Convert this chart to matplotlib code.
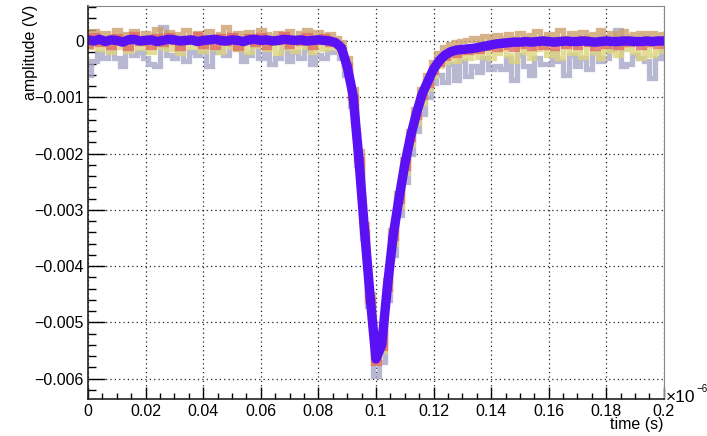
import numpy as np
import matplotlib
matplotlib.use("Agg")
import matplotlib.pyplot as plt
from matplotlib.ticker import MultipleLocator, FuncFormatter

plt.rcParams['font.family'] = ['Liberation Sans', 'DejaVu Sans']

# time samples in units of 1e-6 s
time_us = np.linspace(0, 0.2, 101)

# amplitudes in mV
trace_gray = [
    -0.6, -0.35, -0.2, -0.3, -0.15, -0.3, -0.45, -0.1, -0.25, -0.2,
    -0.3, -0.4, -0.45, 0.25, -0.25, -0.3, -0.05, -0.35, -0.2, -0.25,
    -0.1, -0.45, -0.2, -0.15, -0.25, 0.1, -0.15, -0.35, -0.25, -0.05,
    -0.3, -0.2, -0.4, -0.3, -0.1, -0.35, -0.2, -0.3, -0.15, -0.4,
    -0.25, -0.3, -0.2, -0.2, -0.3, -0.6, -1.15, -2.2, -3.5, -4.7,
    -5.95, -5.7, -4.6, -3.8, -3.1, -2.5, -2.0, -1.6, -1.3, -1.0,
    -0.75, -0.6, -0.72, -0.4, -0.7, -0.35, -0.62, -0.45, -0.55, -0.3,
    -0.5, -0.45, -0.5, -0.3, -0.7, -0.25, -0.45, -0.6, -0.3, -0.4,
    -0.4, -0.2, -0.35, -0.6, -0.25, -0.45, -0.3, -0.5, -0.2, -0.35,
    -0.3, -0.15, 0.2, -0.45, -0.4, -0.25, -0.3, -0.35, -0.65, -0.3,
    -0.2]
trace_yellow = [
    -0.1, 0.05, -0.15, -0.05, -0.2, 0.0, -0.1, -0.18, 0.05, -0.12,
    -0.05, -0.2, 0.0, -0.1, -0.15, -0.05, -0.22, 0.02, -0.1, -0.08,
    -0.18, -0.02, -0.12, -0.2, 0.05, -0.1, -0.15, -0.05, -0.2, -0.08,
    0.0, -0.15, -0.1, -0.22, -0.05, -0.12, -0.18, 0.02, -0.1, -0.2,
    -0.08, -0.15, -0.1, -0.12, -0.2, -0.5, -1.05, -2.15, -3.4, -4.6,
    -5.7, -5.5, -4.45, -3.6, -2.95, -2.35, -1.85, -1.45, -1.1, -0.85,
    -0.62, -0.45, -0.38, -0.3, -0.35, -0.25, -0.3, -0.2, -0.28, -0.15,
    -0.3, -0.22, -0.12, -0.25, -0.35, -0.1, -0.2, -0.3, -0.15, -0.05,
    -0.25, -0.18, -0.3, -0.1, -0.22, -0.15, -0.28, -0.05, -0.2, -0.3,
    -0.12, -0.18, -0.25, 0.05, -0.15, -0.2, -0.3, -0.1, -0.25, -0.18,
    -0.08]
trace_brown = [
    0.1, 0.18, 0.05, 0.15, 0.08, 0.2, 0.02, 0.12, 0.18, 0.06,
    0.14, 0.1, 0.22, 0.04, 0.16, 0.08, 0.12, 0.2, 0.05, 0.15,
    0.1, 0.18, 0.06, 0.12, 0.25, 0.08, 0.14, 0.1, 0.16, 0.05,
    0.2, 0.12, 0.08, 0.15, 0.1, 0.18, 0.06, 0.14, 0.2, 0.1,
    0.16, 0.08, 0.12, 0.05, -0.02, -0.3, -0.85, -1.95, -3.25, -4.5,
    -5.6, -5.35, -4.25, -3.35, -2.7, -2.1, -1.6, -1.2, -0.85, -0.6,
    -0.38, -0.22, -0.1, -0.05, -0.02, 0.0, 0.02, 0.05, 0.0, 0.08,
    0.04, 0.1, 0.06, 0.12, 0.05, 0.15, 0.08, 0.1, 0.18, 0.06,
    0.12, 0.1, 0.2, 0.05, 0.14, 0.08, 0.16, 0.1, 0.12, 0.2,
    0.06, 0.14, 0.1, 0.18, 0.08, 0.12, 0.15, 0.05, 0.14, 0.1,
    0.12]
trace_red = [
    -0.08, 0.1, -0.05, 0.06, -0.1, 0.08, 0.0, -0.12, 0.12, -0.04,
    0.05, -0.1, 0.08, -0.06, 0.1, -0.02, -0.12, 0.06, 0.0, 0.12,
    -0.08, 0.04, -0.1, 0.08, -0.04, 0.1, -0.12, 0.02, 0.08, -0.06,
    0.1, -0.1, 0.04, -0.02, 0.12, -0.08, 0.06, -0.04, 0.1, -0.1,
    0.02, 0.08, -0.05, -0.06, -0.15, -0.42, -1.0, -2.1, -3.4, -4.6,
    -5.72, -5.45, -4.4, -3.5, -2.85, -2.25, -1.75, -1.35, -1.0, -0.78,
    -0.55, -0.4, -0.3, -0.22, -0.25, -0.15, -0.2, -0.1, -0.18, -0.05,
    -0.12, -0.15, -0.02, -0.1, -0.14, 0.02, -0.08, -0.12, 0.0, -0.1,
    -0.05, -0.12, 0.04, -0.08, -0.02, -0.1, 0.05, -0.06, -0.12, 0.02,
    -0.08, -0.04, -0.1, 0.03, -0.06, -0.02, -0.1, 0.04, -0.05, -0.08,
    0.0]
trace_blue = [
    0.02, 0.00, 0.03, -0.01, 0.02, 0.01, -0.02, 0.02, 0.03, 0.00,
    0.01, 0.02, -0.01, 0.01, 0.03, 0.02, 0.00, 0.01, 0.02, -0.01,
    0.01, 0.02, 0.03, 0.01, 0.00, 0.02, 0.01, -0.01, 0.02, 0.03,
    0.01, 0.02, 0.00, 0.01, 0.03, 0.02, 0.01, 0.02, 0.00, 0.01,
    0.02, 0.01, 0.00, -0.03, -0.12, -0.45, -0.95, -2.05, -3.35, -4.55,
    -5.65, -5.4, -4.35, -3.45, -2.8, -2.2, -1.7, -1.3, -0.95, -0.72,
    -0.5, -0.35, -0.25, -0.19, -0.16, -0.15, -0.14, -0.13, -0.11, -0.09,
    -0.07, -0.05, -0.04, -0.03, -0.02, -0.02, -0.01, -0.02, -0.01, 0.00,
    -0.01, -0.02, -0.01, 0.00, -0.01, -0.01, 0.00, -0.01, -0.02, -0.01,
    0.00, -0.01, -0.01, 0.00, 0.00, -0.01, -0.01, 0.00, -0.01, 0.00,
    0.00]

fig = plt.figure(figsize=(7.07, 4.36), dpi=100)
ax = fig.add_axes([0.1245, 0.085, 0.8145, 0.901])

noisy = [(trace_gray, '#a6a6c8'), (trace_yellow, '#ddd47a'),
         (trace_brown, '#cca06c'), (trace_red, '#e26a62')]
for vals, col in noisy:
    ax.plot(time_us, np.array(vals) * 1e-3, drawstyle='steps-mid',
            color=col, lw=3.8, alpha=0.8, solid_joinstyle='miter')
ax.plot(time_us, np.array(trace_blue) * 1e-3, color='#5a12f5', lw=6.8,
        solid_capstyle='round')

ax.set_xlim(0, 0.2)
ax.set_ylim(-0.00636, 0.00062)

ax.xaxis.set_major_locator(MultipleLocator(0.02))
ax.xaxis.set_minor_locator(MultipleLocator(0.005))
ax.yaxis.set_major_locator(MultipleLocator(0.001))
ax.yaxis.set_minor_locator(MultipleLocator(0.0002))

def fmt(v, pos):
    if abs(v) < 1e-12:
        return '0'
    return f"{v:.6g}".replace('-', '\u2212')

ax.xaxis.set_major_formatter(FuncFormatter(fmt))
ax.yaxis.set_major_formatter(FuncFormatter(fmt))

ax.tick_params(axis='both', which='both', direction='in', labelsize=11.5,
               top=False, right=False, width=1)
ax.tick_params(axis='y', which='major', length=12, pad=3)
ax.tick_params(axis='y', which='minor', length=6)
ax.tick_params(axis='x', which='major', length=8.5, pad=4)
ax.tick_params(axis='x', which='minor', length=4.3)

ax.grid(True, which='major', color='#222222', lw=0.9, ls=(0, (1, 2.5)))

for s in ['left', 'bottom']:
    ax.spines[s].set_color('#222222')
    ax.spines[s].set_linewidth(1.2)
for s in ['top', 'right']:
    ax.spines[s].set_color('#888888')
    ax.spines[s].set_linewidth(0.8)

fig.text(0.043, 0.99, 'amplitude (V)', rotation=90, ha='center', va='top',
         fontsize=11.5)
fig.text(0.939, 0.01, 'time (s)', ha='right', va='bottom', fontsize=11.5)
# exponent marker at the end of the x axis
fig.text(0.942, 0.088, '\u00d710', ha='left', va='center', fontsize=12.5)
fig.text(0.985, 0.108, '\u22126', ha='left', va='center', fontsize=7)

fig.savefig('out.png', dpi=100)
